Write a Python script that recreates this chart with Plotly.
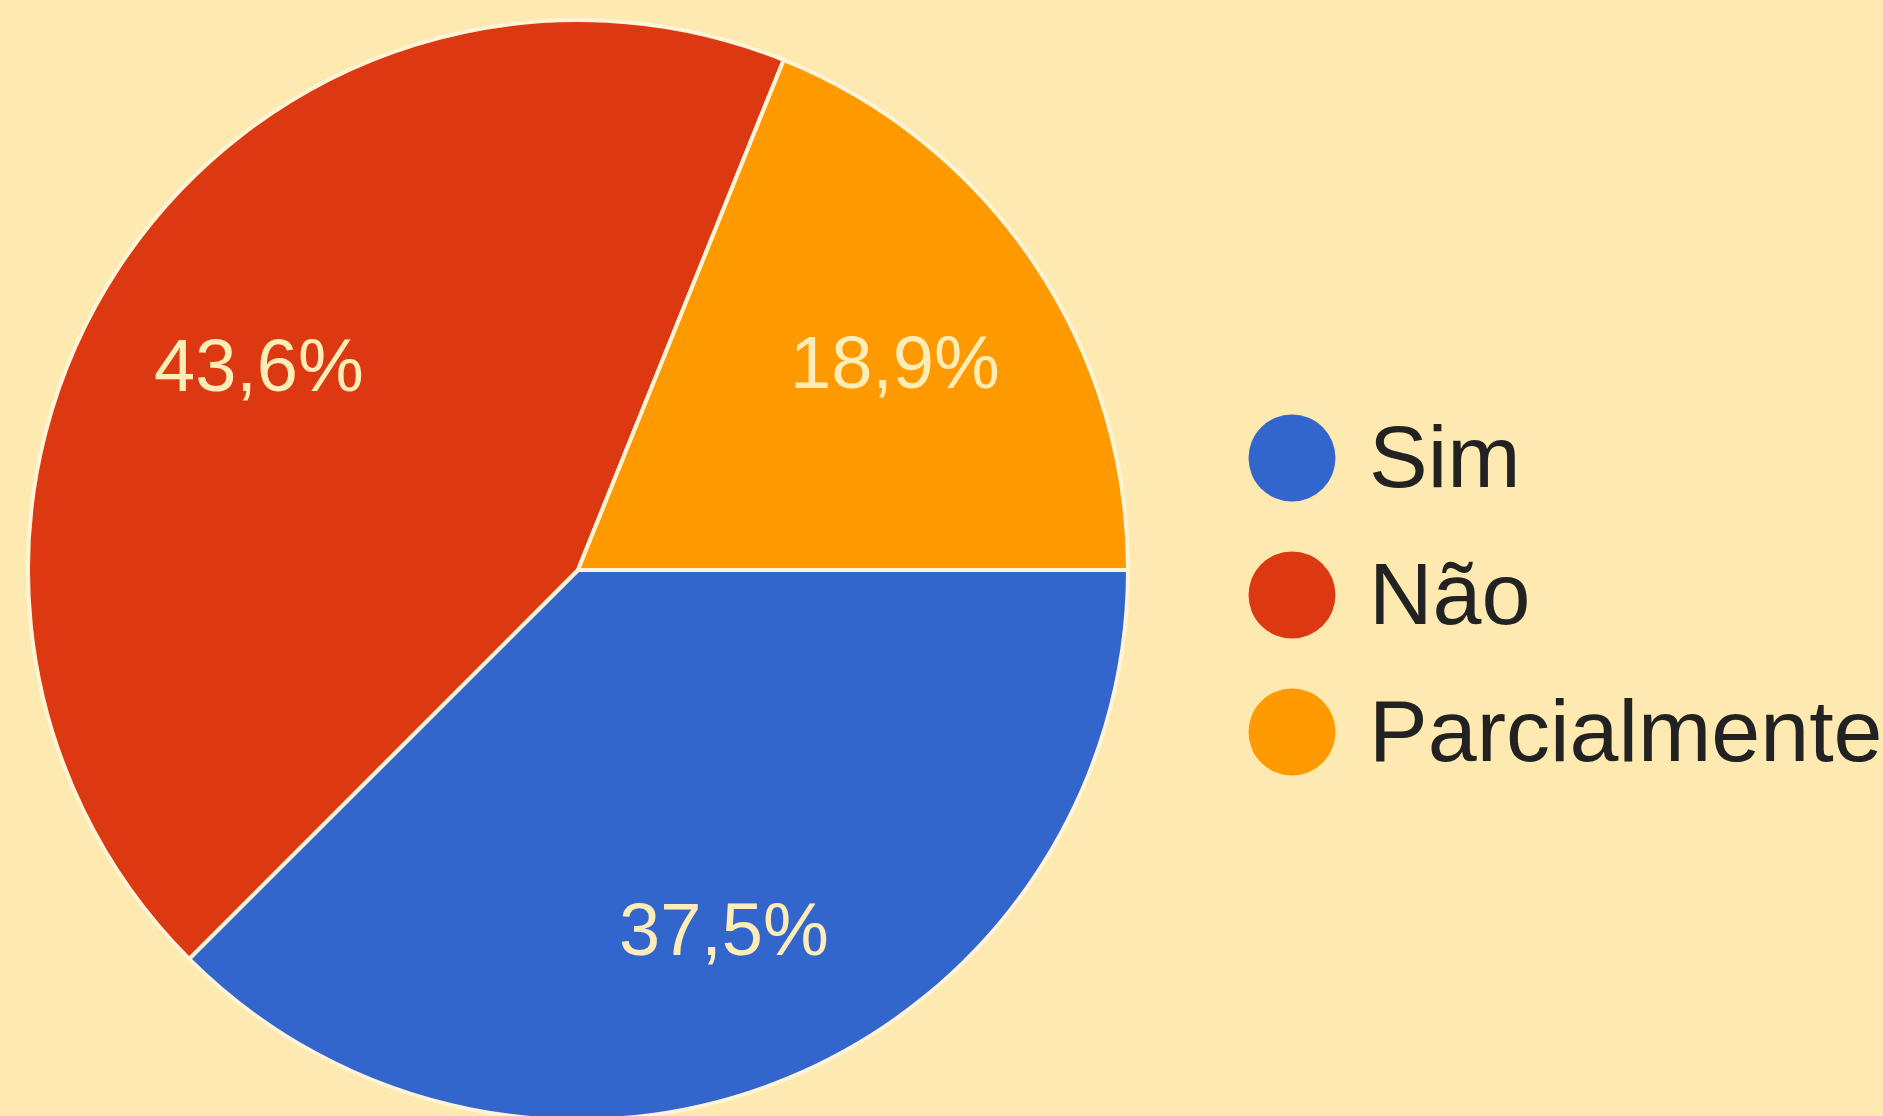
import math
import plotly.graph_objects as go

# ---- data ----
labels = ["Sim", "Não", "Parcialmente"]
values = [37.5, 43.6, 18.9]
colors = ["#3366CC", "#DC3912", "#FF9900"]

# ---- layout constants (page pixels) ----
W, H = 1883, 1120
BG = "#FEEAB0"
M_L, M_T = 28, 20
PLOT_W, PLOT_H = W - M_L, H - M_T
LEG_X, LEG_Y0, LEG_DY = 1292, 458, 137
LEG_TEXT_X, LEG_TEXT_DY = 1369, 7
LABEL_FRAC = 0.695
LABEL_DY = 6
FONT = "Arial, Liberation Sans, sans-serif"

fig = go.Figure()

fig.add_trace(go.Pie(
    labels=labels,
    values=values,
    marker=dict(colors=colors, line=dict(color="#FFF4D6", width=4)),
    sort=False,
    direction="clockwise",
    rotation=90,
    textinfo="none",
    domain=dict(x=[0, PLOT_H / PLOT_W], y=[0, 1]),
    showlegend=False,
    hoverinfo="label+percent",
))

# percentage labels placed at the middle angle of each slice (computed from data)
cx, cy, r = M_L + PLOT_H / 2, M_T + PLOT_H / 2, PLOT_H / 2
total = sum(values)
cum = 0.0
annotations = []
for v in values:
    theta = 2 * math.pi * (cum + v / 2) / total  # clockwise from 3 o'clock
    cum += v
    pct = f"{100 * v / total:.1f}%".replace(".", ",")
    annotations.append(dict(
        x=cx + LABEL_FRAC * r * math.cos(theta),
        y=cy + LABEL_FRAC * r * math.sin(theta) + LABEL_DY,
        xref="x", yref="y",
        text=pct, showarrow=False,
        xanchor="center", yanchor="middle",
        font=dict(family=FONT, size=74, color="#FFEDB8"),
    ))

# custom legend (large circle markers + labels), positioned on pixel-unit axes
idx = list(range(len(labels)))
fig.add_trace(go.Scatter(
    x=[LEG_X for _ in idx],
    y=[LEG_Y0 + i * LEG_DY for i in idx],
    mode="markers",
    marker=dict(size=87, color=colors, line=dict(width=0)),
    hoverinfo="skip",
    showlegend=False,
))
fig.add_trace(go.Scatter(
    x=[LEG_TEXT_X for _ in idx],
    y=[LEG_Y0 + LEG_TEXT_DY + i * LEG_DY for i in idx],
    mode="text",
    text=labels,
    textposition="middle right",
    textfont=dict(family=FONT, size=88, color="#222222"),
    hoverinfo="skip",
    showlegend=False,
))

fig.update_layout(
    width=W,
    height=H,
    autosize=False,
    paper_bgcolor=BG,
    plot_bgcolor="rgba(0,0,0,0)",
    margin=dict(l=M_L, r=0, t=M_T, b=0, pad=0),
    separators=",.",
    xaxis=dict(range=[M_L, W], visible=False, fixedrange=True),
    yaxis=dict(range=[H, M_T], visible=False, fixedrange=True),
    annotations=annotations,
    showlegend=False,
)

fig.write_html(
    "out.html",
    config={"displayModeBar": False},
    post_script="document.body.style.margin='0';document.body.style.overflow='hidden';document.body.style.background='" + BG + "';",
)
